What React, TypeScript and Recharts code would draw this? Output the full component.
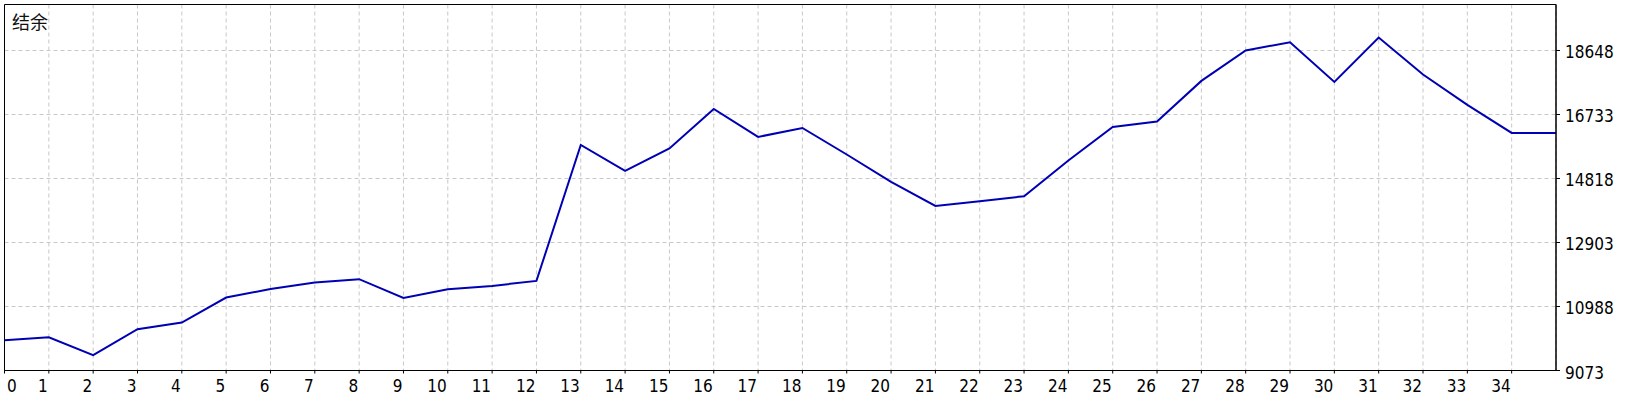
import React from 'react';
import { LineChart, Line, XAxis, YAxis, CartesianGrid, ReferenceArea } from 'recharts';

const xValues = [0, 1, 2, 3, 4, 5, 6, 7, 8, 9, 10, 11, 12, 13, 14, 15, 16, 17, 18, 19, 20, 21, 22, 23, 24, 25, 26, 27, 28, 29, 30, 31, 32, 33, 34, 35];
const balance = [
  9980, 10069, 9531, 10309, 10509, 11257, 11510, 11706, 11805, 11245,
  11505, 11604, 11754, 15823, 15045, 15715, 16900, 16062, 16330, 15536,
  14716, 13998, 14139, 14288, 15357, 16362, 16523, 17738, 18648, 18896,
  17708, 19036, 17929, 17020, 16182, 16182,
];
const xTicks = [0, 1, 2, 3, 4, 5, 6, 7, 8, 9, 10, 11, 12, 13, 14, 15, 16, 17, 18, 19, 20, 21, 22, 23, 24, 25, 26, 27, 28, 29, 30, 31, 32, 33, 34];
const yTicks = [9073, 10988, 12903, 14818, 16733, 18648];
const yMin = 9073;
const yMax = 20024;
const xMax = 35;
const title = '结余';

const data = xValues.map((x, i) => ({ x, balance: balance[i] }));

const FONT = '"DejaVu Sans Condensed", "DejaVu Sans", "Liberation Sans", sans-serif';

const XTick = (props: any) => {
  const { x, y, payload } = props;
  const first = payload.value === 0;
  return (
    <text
      x={first ? x + 2.5 : x - 1}
      y={y + 18.5}
      textAnchor={first ? 'start' : 'end'}
      fontFamily={FONT}
      fontSize={17}
      fill="#000"
    >
      {payload.value}
    </text>
  );
};

const YTick = (props: any) => {
  const { x, y, payload } = props;
  return (
    <text x={x} y={y + 8} textAnchor="start" fontFamily={FONT} fontSize={17} fill="#000">
      {payload.value}
    </text>
  );
};

export default function App() {
  return (
    <div style={{ position: 'absolute', left: 0, top: 0, width: 1640, height: 400, background: '#fff' }}>
      <LineChart
        width={1640}
        height={400}
        data={data}
        margin={{ top: 4.5, right: 0, bottom: 0, left: 4.5 }}
      >
        <CartesianGrid stroke="#c8c8c8" strokeDasharray="4 3" />
        <XAxis
          dataKey="x"
          type="number"
          domain={[0, xMax]}
          ticks={xTicks}
          interval={0}
          allowDataOverflow
          height={29.5}
          tickSize={3}
          tickMargin={0}
          axisLine={{ stroke: '#000' }}
          tickLine={{ stroke: '#000' }}
          tick={<XTick />}
        />
        <YAxis
          orientation="right"
          type="number"
          domain={[yMin, yMax]}
          ticks={yTicks}
          interval={0}
          allowDataOverflow
          width={84}
          tickSize={4}
          tickMargin={5}
          axisLine={{ stroke: '#000' }}
          tickLine={{ stroke: '#000' }}
          tick={<YTick />}
        />
        <ReferenceArea
          x1={0}
          x2={xMax}
          y1={yMin}
          y2={yMax}
          fill="none"
          stroke="#000"
          strokeWidth={1}
          ifOverflow="visible"
        />
        <Line
          type="linear"
          dataKey="balance"
          stroke="#0000b4"
          strokeWidth={2}
          dot={false}
          activeDot={false}
          isAnimationActive={false}
        />
      </LineChart>
      <svg
        width={120}
        height={40}
        style={{ position: 'absolute', left: 0, top: 0, pointerEvents: 'none' }}
      >
        <text x={12} y={28.5} fontFamily='"Noto Sans CJK SC", sans-serif' fontSize={18} fill="#111">
          {title}
        </text>
      </svg>
    </div>
  );
}
